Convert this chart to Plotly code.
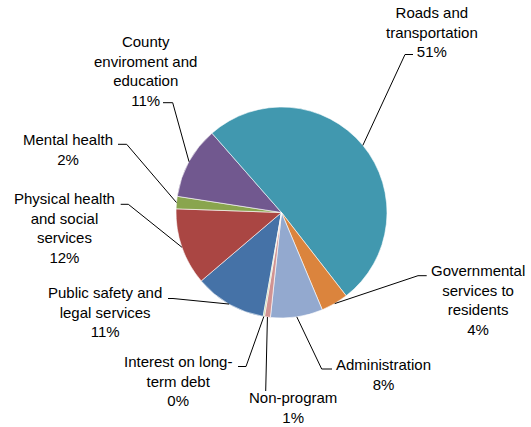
import math
import plotly.graph_objects as go

# ---- data (clockwise order, as in the source chart) ----
categories = [
    "Public safety and<br>legal services",
    "Physical health<br>and social<br>services",
    "Mental health",
    "County<br>enviroment and<br>education",
    "Roads and<br>transportation",
    "Governmental<br>services to<br>residents",
    "Administration",
    "Non-program",
    "Interest on long-<br>term debt",
]
values = [11.0, 11.8, 1.9, 11.1, 51.0, 4.2, 8.0, 0.9, 0.2]
colors = ["#4572A7", "#AA4643", "#89A54E", "#71588F", "#4198AF",
          "#DB843D", "#93A9CF", "#D19392", "#B9CD96"]

# ---- layout settings ----
W, H = 531, 427
CX, CY, R = 281.5, 212.5, 105.5
ROTATION = 190
# label block centre (px) and leader elbow (px), horizontal stub end (px)
label_pos = [(104.5, 312), (64.5, 227.5), (68, 150), (145, 71.3), (431.5, 32.5),
             (477.5, 299.5), (383.5, 374), (293.3, 407), (178, 381)]
elbow_pos = [(173, 298.5), (128.3, 204.3), (126.7, 144.3), (172.7, 102.7), (405, 54.5),
             (418, 275.7), (321.7, 369), (265.7, 391), (246, 366.5)]
stub_end = [(168, 298.5), (120.7, 204.3), (118, 144.3), (163, 102.7), (413, 54.5),
            (426.7, 275.7), (332, 369), None, (238, 366.5)]

FONT = "Liberation Sans, Arial, sans-serif"

def px(x):
    return x / W

def py(y):
    return 1 - y / H

fig = go.Figure(go.Pie(
    labels=categories, values=values, sort=False, direction="clockwise",
    rotation=ROTATION, textinfo="none", hoverinfo="label+percent",
    marker=dict(colors=colors, line=dict(color="#ffffff", width=0.6)),
    domain=dict(x=[px(CX - R), px(CX + R)], y=[py(CY + R), py(CY - R)]),
    showlegend=False,
))

total = sum(values)
cum = 0.0
shapes = []
annotations = []
for i, v in enumerate(values):
    mid = ROTATION + (cum + v / 2) / total * 360
    cum += v
    a = math.radians(mid)
    ex, ey = CX + R * math.sin(a), CY - R * math.cos(a)
    bx, by = elbow_pos[i]
    shapes.append(dict(type="line", xref="paper", yref="paper",
                       x0=px(ex), y0=py(ey), x1=px(bx), y1=py(by),
                       line=dict(color="#000000", width=1)))
    if stub_end[i] is not None:
        sx, sy = stub_end[i]
        shapes.append(dict(type="line", xref="paper", yref="paper",
                           x0=px(bx), y0=py(by), x1=px(sx), y1=py(sy),
                           line=dict(color="#000000", width=1)))
    pct = round(v / total * 100)
    lx, ly = label_pos[i]
    annotations.append(dict(
        x=px(lx), y=py(ly), xref="paper", yref="paper",
        text=f"{categories[i]}<br>{pct}%", showarrow=False,
        xanchor="center", yanchor="middle", align="center",
        font=dict(family=FONT, size=15, color="#000000")))

fig.update_layout(
    width=W, height=H, margin=dict(l=0, r=0, t=0, b=0),
    paper_bgcolor="#ffffff", plot_bgcolor="#ffffff",
    shapes=shapes, annotations=annotations,
)

fig.write_html("out.html")
